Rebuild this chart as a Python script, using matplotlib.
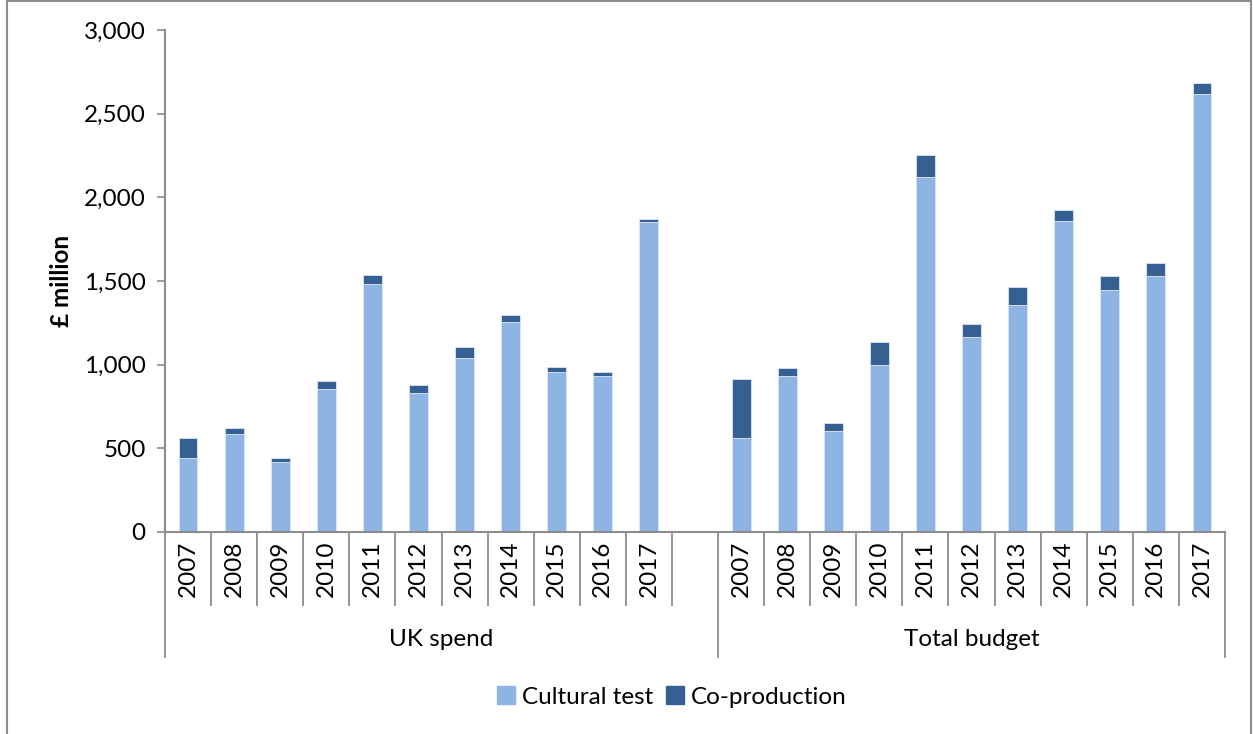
import matplotlib.pyplot as plt
import matplotlib.transforms as mtransforms
from matplotlib.patches import Rectangle, Patch
from matplotlib.lines import Line2D
import numpy as np

plt.rcParams['font.family'] = ['Lato', 'DejaVu Sans']

years = ['2007', '2008', '2009', '2010', '2011', '2012', '2013', '2014', '2015', '2016', '2017']
groups = ['UK spend', 'Total budget']

uk_cultural = [440, 587, 420, 852, 1480, 833, 1042, 1254, 958, 934, 1853]
uk_coprod = [120, 34, 22, 52, 55, 43, 64, 40, 30, 24, 20]
total_cultural = [560, 934, 601, 1000, 2120, 1168, 1354, 1859, 1444, 1532, 2619]
total_coprod = [355, 44, 48, 136, 132, 76, 112, 68, 88, 78, 66]

light = '#8EB4E3'
dark = '#376092'
grey = '#8C8C8C'
fs = 17.5

W, H = 1253, 734
fig = plt.figure(figsize=(W / 100, H / 100), dpi=100)
ax = fig.add_axes([165 / W, (H - 532) / H, (1225 - 165) / W, (532 - 30) / H])

# positions: UK 0..10, empty slot 11, Total 12..22
x_uk = np.arange(11)
x_tot = np.arange(12, 23)
bw = 0.41
ax.bar(x_uk, uk_cultural, bw, color=light, edgecolor='#DCE6F2', linewidth=0.6)
ax.bar(x_uk, uk_coprod, bw, bottom=uk_cultural, color=dark, edgecolor='#DCE6F2', linewidth=0.6)
ax.bar(x_tot, total_cultural, bw, color=light, edgecolor='#DCE6F2', linewidth=0.6)
ax.bar(x_tot, total_coprod, bw, bottom=total_cultural, color=dark, edgecolor='#DCE6F2', linewidth=0.6)

ax.set_xlim(-0.5, 22.5)
ax.set_ylim(0, 3000)
ax.set_yticks(np.arange(0, 3001, 500))
ax.set_yticklabels([f'{v:,}' for v in range(0, 3001, 500)], fontsize=fs)
ax.tick_params(axis='y', length=6, width=1.2, color=grey, pad=8)
ax.set_xticks([])
for s in ['top', 'right']:
    ax.spines[s].set_visible(False)
for s in ['left', 'bottom']:
    ax.spines[s].set_color(grey)
    ax.spines[s].set_linewidth(1.5)
ax.set_ylabel('£ million', fontsize=17.5, fontweight='bold', labelpad=8)

# category axis: year labels and separators
trans = mtransforms.blended_transform_factory(ax.transData, fig.transFigure)
def fy(py):
    return (H - py) / H

for i, yr in enumerate(years):
    for xc in (x_uk[i], x_tot[i]):
        ax.text(xc, fy(569), yr, transform=trans, rotation=90, ha='center', va='center',
                fontsize=fs, clip_on=False)

short_seps = [i + 0.5 for i in range(11)] + [i + 0.5 for i in range(12, 22)]
for xs in short_seps:
    ax.add_line(Line2D([xs, xs], [fy(532), fy(605)], transform=trans, color=grey,
                       lw=1.3, clip_on=False))
for xs in (-0.5, 11.5, 22.5):
    ax.add_line(Line2D([xs, xs], [fy(532), fy(657)], transform=trans, color=grey,
                       lw=1.3, clip_on=False))

ax.text(5.5, fy(639), groups[0], transform=trans, ha='center', va='center', fontsize=fs)
ax.text(17, fy(639), groups[1], transform=trans, ha='center', va='center', fontsize=fs)

handles = [Patch(color=light, label='Cultural test'), Patch(color=dark, label='Co-production')]
fig.legend(handles=handles, loc='center', bbox_to_anchor=(672 / W, fy(697)), ncol=2,
           frameon=False, fontsize=fs, handlelength=0.75, handleheight=0.75,
           handletextpad=0.3, columnspacing=0.5)

# chart border
fig.patches.append(Rectangle((7 / W, -0.01), (1251 - 7) / W, 1.0 - 1 / H + 0.01,
                             transform=fig.transFigure, fill=False, edgecolor=grey, lw=1.5))

fig.savefig('out.png', dpi=100)
